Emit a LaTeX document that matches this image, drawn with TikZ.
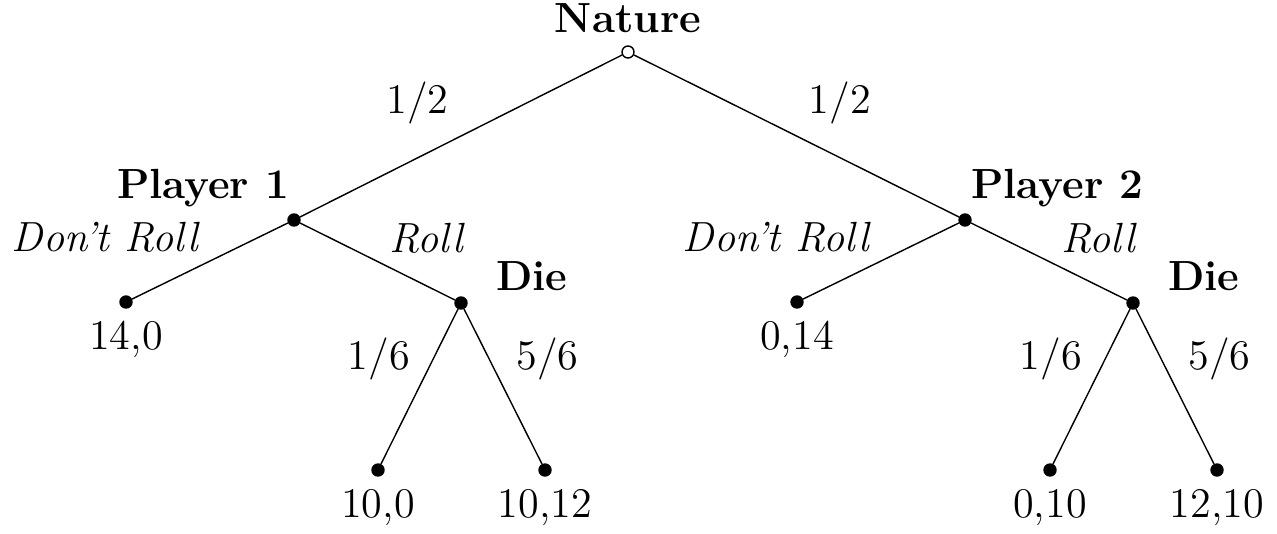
\documentclass[tikz,border=0pt]{standalone}
\usetikzlibrary{positioning}
\begin{document}
\begin{tikzpicture}[
        font=\large,
        chance/.style={circle, draw, fill=white, inner sep=0pt, minimum size=1.2mm},
        dec/.style={circle, draw, fill=black, inner sep=0pt, minimum size=1.2mm},
        leaf/.style={dec, label distance=0.8mm},
        who/.style={font=\large\bfseries},
        move/.style={font=\large\itshape, yshift=-0.4mm}]
        \useasboundingbox (0,0) rectangle (12.77,5.33);
        % nodes
        \node[chance, label={[who]above:Nature}] (nat) at (6.28,4.81) {};
        \node[dec, label={[who, xshift=1.2mm, yshift=-0.4mm]above left:Player 1}]   (p1) at (2.94,3.13) {};
        \node[dec, label={[who, xshift=-1.1mm, yshift=-0.4mm]above right:Player 2}] (p2) at (9.65,3.13) {};
        \node[leaf, label=below:{14,0}] (p1d) at (1.26,2.31) {};
        \node[dec, label={[who, xshift=1.8mm, yshift=-0.5mm]above right:Die}] (die1) at (4.61,2.30) {};
        \node[leaf, label=below:{10,0}]  (d1a) at (3.78,0.63) {};
        \node[leaf, label=below:{10,12}] (d1b) at (5.45,0.63) {};
        \node[leaf, label=below:{0,14}] (p2d) at (7.97,2.31) {};
        \node[dec, label={[who, xshift=1.8mm, yshift=-0.5mm]above right:Die}] (die2) at (11.33,2.30) {};
        \node[leaf, label=below:{0,10}]  (d2a) at (10.50,0.63) {};
        \node[leaf, label=below:{12,10}] (d2b) at (12.17,0.63) {};
        % edges
        \draw (nat) -- node[above left]  {1/2} (p1);
        \draw (nat) -- node[above right] {1/2} (p2);
        \draw (p1) -- node[move, above left]  {Don't Roll} (p1d);
        \draw (p1) -- node[move, above right] {Roll} (die1);
        \draw (p2) -- node[move, above left]  {Don't Roll} (p2d);
        \draw (p2) -- node[move, above right] {Roll} (die2);
        \draw (die1) -- node[pos=0.32, left=1.1mm]  {1/6} (d1a);
        \draw (die1) -- node[pos=0.32, right=1.5mm] {5/6} (d1b);
        \draw (die2) -- node[pos=0.32, left=1.1mm]  {1/6} (d2a);
        \draw (die2) -- node[pos=0.32, right=1.5mm] {5/6} (d2b);
\end{tikzpicture}
\end{document}
